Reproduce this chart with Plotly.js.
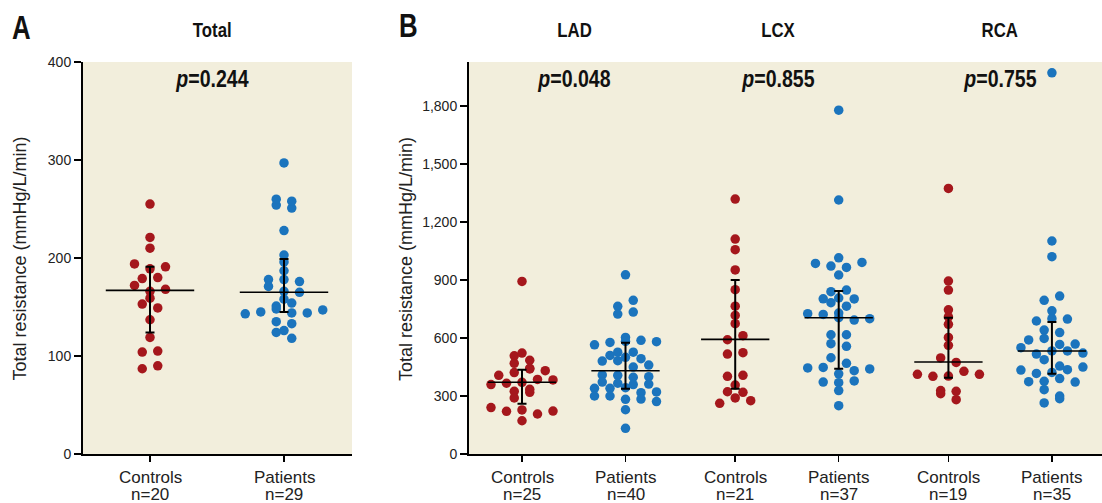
<!DOCTYPE html>
<html><head><meta charset="utf-8">
<script src="https://cdn.plot.ly/plotly-3.0.1.min.js"></script>
<style>html,body{margin:0;padding:0;background:#fff;}#chart{width:1102px;height:503px;}</style>
</head><body><div id="chart"></div>
<script>
// ---------- data ----------
const totalControls = [255,221,210,194,189,191,179,180,172,166,168,159,153,149,137,119,104,105,87,90];
const totalPatients = [297,254,251,260,258,228,203,196,187,178,178,171,176,166,165,158,151,154,143,145,148,144,144,147,135,133,126,124,118];
const ladControls = [893,469,508,522,485,407,421,443,440,431,359,366,371,386,383,324,290,319,335,240,221,228,207,222,172];
const ladPatients = [927,764,795,724,734,603,565,577,583,588,581,510,527,527,500,481,483,493,450,460,409,407,397,400,372,340,340,343,366,359,362,300,317,321,300,283,284,271,229,133];
const lcxControls = [1319,1112,1057,952,850,765,717,674,591,612,517,524,402,407,357,322,319,262,290,276];
const lcxPatients = [1779,1314,1015,986,972,965,991,926,840,848,803,807,802,783,765,729,726,722,705,693,700,617,617,571,557,498,445,469,448,415,431,440,372,369,378,328,250];
const rcaControls = [1374,895,848,746,709,671,603,562,497,474,412,402,403,428,412,328,324,312,281];
const rcaPatients = [1972,1102,1021,795,817,741,688,700,698,641,628,590,598,550,567,569,517,533,533,522,488,434,417,422,436,450,455,374,376,390,372,333,300,264,286];

// medians and interquartile ranges
const medianA = [167,165];
const q1A = [124,145];
const q3A = [191,199];
const medianB = [371,431,593,705,476,533];
const q1B = [260,338,338,441,395,415];
const q3B = [436,576,900,843,705,683];

const groupsA = ["Controls","Patients"];
const countsA = ["n=20","n=29"];
const groupsB = ["Controls","Patients","Controls","Patients","Controls","Patients"];
const countsB = ["n=25","n=40","n=21","n=37","n=19","n=35"];
const vessels = ["LAD","LCX","RCA"];
const pA = "0.244";
const pB = ["0.048","0.855","0.755"];
const yTicksA = [0,100,200,300,400];
const yTicksB = [0,300,600,900,1200,1500,1800];
const yTitle = "Total resistance (mmHg/L/min)";

// ---------- layout geometry ----------
const W = 1102, H = 503;
const TOP = 62, BOT = 454;
const AL = 83, AR = 352, BL = 469, BR = 1102;
const A_UNIT = 134, B_UNIT = 103.5, A_FIRST = 150, B_FIRST = 522;
const rangeA = [(AL-A_FIRST)/A_UNIT, (AR-A_FIRST)/A_UNIT];
const rangeB = [(BL-B_FIRST)/B_UNIT, (BR-B_FIRST)/B_UNIT];
const yRangeA = [0,400], yRangeB = [0,2028];
const catB = i => i + 0.06*Math.floor(i/2);
const px = x => x/W, py = y => 1 - y/H;

const RED = "#a5171c", BLUE = "#1b74bd";
const BOLD = "'Liberation Sans',Arial,sans-serif";
const SANS = "'Liberation Sans',Arial,sans-serif";

function swarm(vals, cx, yPerPx, xUnitPx, maxW) {
  const thr = 6.5*yPerPx;
  const order = vals.map((v,i)=>i).sort((a,b)=>vals[a]-vals[b]);
  const rows = []; let cur = [], start = 0;
  for (const i of order) {
    if (cur.length && vals[i]-start > thr) { rows.push(cur); cur = []; }
    if (!cur.length) start = vals[i];
    cur.push(i);
  }
  if (cur.length) rows.push(cur);
  const maxN = Math.max(...rows.map(r=>r.length));
  const col = maxN>1 ? Math.min(15.5, maxW/(maxN-1)) : 15.5;
  const xs = new Array(vals.length);
  rows.forEach(r => { r.sort((a,b)=>a-b); r.forEach((idx,k)=>{ xs[idx] = cx + (k-(r.length-1)/2)*col/xUnitPx; }); });
  return xs;
}

const traces = [];
function addGroup(vals, cx, color, xa, ya, yPerPx, unit, maxW, med, q1, q3) {
  traces.push({type:"scatter", mode:"markers", x: swarm(vals,cx,yPerPx,unit,maxW), y: vals,
    xaxis:xa, yaxis:ya, marker:{color:color, size:9.5, line:{width:0}}, cliponaxis:false, hoverinfo:"skip"});
  traces.push({type:"scatter", mode:"lines", x:[cx-0.33, cx+0.33], y:[med,med], xaxis:xa, yaxis:ya,
    line:{color:"#000", width:1.6}, hoverinfo:"skip"});
  traces.push({type:"scatter", mode:"markers", x:[cx], y:[med], xaxis:xa, yaxis:ya,
    marker:{size:1, opacity:0},
    error_y:{type:"data", symmetric:false, array:[q3-med], arrayminus:[med-q1], color:"#000", thickness:2, width:4.5},
    hoverinfo:"skip"});
}
const yPerPxA = (yRangeA[1]-yRangeA[0])/(BOT-TOP);
const yPerPxB = (yRangeB[1]-yRangeB[0])/(BOT-TOP);
const dataA = [totalControls, totalPatients];
dataA.forEach((v,i)=>addGroup(v, i, i%2?BLUE:RED, "x","y", yPerPxA, A_UNIT, 90, medianA[i], q1A[i], q3A[i]));
const dataB = [ladControls, ladPatients, lcxControls, lcxPatients, rcaControls, rcaPatients];
dataB.forEach((v,i)=>addGroup(v, catB(i), i%2?BLUE:RED, "x2","y2", yPerPxB, B_UNIT, 62, medianB[i], q1B[i], q3B[i]));

const axisCommon = {showline:true, linecolor:"#000", linewidth:2, ticks:"outside", tickcolor:"#000",
  tickwidth:1.5, showgrid:false, zeroline:false, fixedrange:true};
const tickFont = {family:SANS, size:14, color:"#222"};

const ann = [];
const condensed = []; // [annotation index, horizontal scale]
function addText(text, x, y, font, extra, squeeze) {
  if (squeeze) condensed.push([ann.length, squeeze]);
  ann.push(Object.assign({text, x:px(x), y:py(y), xref:"paper", yref:"paper",
    showarrow:false, xanchor:"center", yanchor:"middle", font}, extra||{}));
}
const headFont = {family:BOLD, size:21, color:"#111"};
const pFont = {family:BOLD, size:23, color:"#111"};
const letterFont = {family:BOLD, size:34, color:"#111"};
addText("<b>A</b>", 21, 27, letterFont, null, 0.76);
addText("<b>B</b>", 408, 25, letterFont, null, 0.76);
addText("<b>Total</b>", 212, 29.5, headFont, null, 0.8);
addText("<b><i>p</i>=" + pA + "</b>", 212, 79.5, pFont, null, 0.85);
const vesselX = [574, 778, 1000];
vessels.forEach((v,i)=>{ addText("<b>"+v+"</b>", vesselX[i], 29.5, headFont, null, 0.8);
  addText("<b><i>p</i>=" + pB[i] + "</b>", vesselX[i], 79, pFont, null, 0.85); });
const labFont = {family:SANS, size:17, color:"#222"};
addText(yTitle, 19.5, 259, {family:SANS, size:18, color:"#222"}, {textangle:-90});
addText(yTitle, 406, 259, {family:SANS, size:18, color:"#222"}, {textangle:-90});
function catLabels(groups, counts, xref, pos) {
  groups.forEach((g,i)=>{
    ann.push({text:g, x:pos(i), y:py(477), xref:xref, yref:"paper", showarrow:false, xanchor:"center", yanchor:"middle", font:labFont});
    ann.push({text:counts[i], x:pos(i), y:py(494.5), xref:xref, yref:"paper", showarrow:false, xanchor:"center", yanchor:"middle", font:labFont});
  });
}
catLabels(groupsA, countsA, "x", i=>i);
catLabels(groupsB, countsB, "x2", catB);

const layout = {
  width:W, height:H, margin:{l:0,r:0,t:0,b:0}, paper_bgcolor:"#fff", plot_bgcolor:"#f2eedc",
  showlegend:false, hovermode:false,
  xaxis: Object.assign({}, axisCommon, {domain:[px(AL), px(AR)], range:rangeA, tickvals:[0,1], showticklabels:false, ticklen:6, anchor:"y"}),
  yaxis: Object.assign({}, axisCommon, {domain:[py(BOT), py(TOP)], range:yRangeA, tickvals:yTicksA, ticklen:7, tickfont:tickFont, anchor:"x"}),
  xaxis2: Object.assign({}, axisCommon, {domain:[px(BL), 1], range:rangeB, tickvals:[0,1,2,3,4,5].map(catB), showticklabels:false, ticklen:6, anchor:"y2"}),
  yaxis2: Object.assign({}, axisCommon, {domain:[py(BOT), py(TOP)], range:yRangeB, tickvals:yTicksB, tickformat:",d", ticklen:7, tickfont:tickFont, anchor:"x2"}),
  annotations: ann
};
Plotly.newPlot("chart", traces, layout, {staticPlot:true, displayModeBar:false}).then(gd => {
  condensed.forEach(([i, s]) => {
    const t = gd.querySelector('g.annotation[data-index="' + i + '"] text');
    if (t) { t.style.transformBox = "fill-box"; t.style.transformOrigin = "50% 50%"; t.style.transform = "scaleX(" + s + ")"; }
  });
});
</script></body></html>
